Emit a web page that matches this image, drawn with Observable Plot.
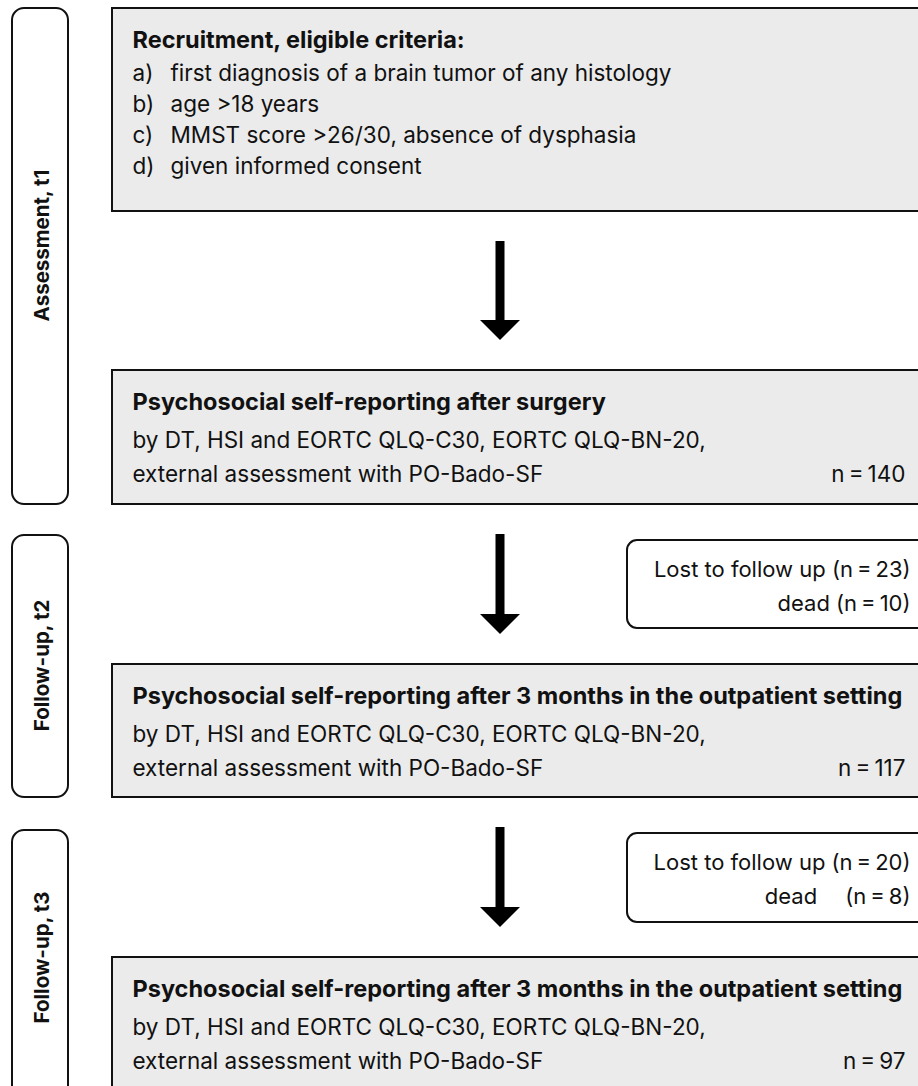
<!DOCTYPE html>
<html><head><meta charset="utf-8">
<script src="https://cdn.jsdelivr.net/npm/d3@7"></script>
<script src="https://cdn.jsdelivr.net/npm/@observablehq/plot@0.6"></script>
<style>body{margin:0;overflow:hidden;background:#fff}</style>
</head><body><div id="chart"></div>
<script>
// ---- data ----
const phaseLabels = ["Assessment, t1", "Follow-up, t2", "Follow-up, t3"];
const stageTitles = [
  "Recruitment, eligible criteria:",
  "Psychosocial self-reporting after surgery",
  "Psychosocial self-reporting after 3 months in the outpatient setting",
  "Psychosocial self-reporting after 3 months in the outpatient setting"
];
const criteriaKeys = ["a)", "b)", "c)", "d)"];
const criteriaText = [
  "first diagnosis of a brain tumor of any histology",
  "age >18 years",
  "MMST score >26/30, absence of dysphasia",
  "given informed consent"
];
const measureLines = ["by DT, HSI and EORTC QLQ-C30, EORTC QLQ-BN-20,", "external assessment with PO-Bado-SF"];
const sampleN = [140, 117, 97];
const lostN = [23, 20];
const deadN = [10, 8];
const deadGap = ["", "\u2002\u2002"];

// ---- layout ----
const W = 918, H = 1086;
const FONT = "Inter";
const FS_BOLD = 23.5, FS = 22.5, FS_SIDE = 22, FS_PHASE = 20.5;
const INK = "#111";
const mainX1 = 112, mainX2 = 940, textX = 132, keyX = 170, nRight = 905;
const mainY = [[8, 211], [370, 504], [664, 797], [957, 1100]];
const phaseY = [[8, 504], [535, 797], [830, 1100]];
const phaseMid = [245, 665, 957];
const sideY = [[540, 628], [833, 922]];
const arrowX = 500;

const mainRects = mainY.map(([y1, y2]) => ({x1: mainX1, x2: mainX2, y1, y2}));
const phaseRects = phaseY.map(([y1, y2]) => ({x1: 12, x2: 68, y1, y2}));
const sideRects = sideY.map(([y1, y2]) => ({x1: 627, x2: 940, y1, y2}));
const arrows = mainY.slice(0, 3).map(([, b], i) => {
  const top = b + 30, tip = mainY[i + 1][0] - 30;
  return {i, top, tip, head: tip - 20};
});
const shafts = arrows.map(a => ({x1: arrowX - 4.5, x2: arrowX + 4.5, y1: a.top, y2: a.head + 1}));
const heads = arrows.flatMap(a => [
  {i: a.i, x: arrowX - 20, y1: a.head, y2: a.head},
  {i: a.i, x: arrowX, y1: a.head, y2: a.tip},
  {i: a.i, x: arrowX + 20, y1: a.head, y2: a.head}
]);

const boldRows = [{x: textX, y: 47, text: stageTitles[0]}];
const normRows = [];
const rightRows = [];
const sideRows = [];
criteriaKeys.forEach((k, j) => {
  normRows.push({x: textX, y: 80 + 31 * j, text: k});
  normRows.push({x: keyX, y: 80 + 31 * j, text: criteriaText[j]});
});
mainY.slice(1).forEach(([t], i) => {
  boldRows.push({x: textX, y: t + 39, text: stageTitles[i + 1]});
  normRows.push({x: textX, y: t + 77, text: measureLines[0]});
  normRows.push({x: textX, y: t + 111, text: measureLines[1]});
  rightRows.push({x: nRight, y: t + 111, text: `n\u2009=\u2009${sampleN[i]}`});
});
sideY.forEach(([t], i) => {
  sideRows.push({x: 910, y: t + 36, text: `Lost to follow up (n\u2009=\u2009${lostN[i]})`});
  sideRows.push({x: 910, y: t + 70, text: `dead ${deadGap[i]}(n\u2009=\u2009${deadN[i]})`});
});
const phaseRows = phaseLabels.map((t, i) => ({x: 48, y: phaseMid[i], text: t}));

const plot = Plot.plot({
  width: W, height: H, margin: 0,
  x: {domain: [0, W], range: [0, W], axis: null},
  y: {domain: [0, H], range: [0, H], axis: null},
  style: {fontFamily: FONT, background: "#fff"},
  marks: [
    Plot.rect(phaseRects, {x1: "x1", x2: "x2", y1: "y1", y2: "y2", fill: "#fff", stroke: INK, strokeWidth: 2, rx: 12}),
    Plot.rect(mainRects, {x1: "x1", x2: "x2", y1: "y1", y2: "y2", fill: "#ebebeb", stroke: INK, strokeWidth: 2}),
    Plot.rect(sideRects, {x1: "x1", x2: "x2", y1: "y1", y2: "y2", fill: "#fff", stroke: INK, strokeWidth: 2, rx: 10}),
    Plot.rect(shafts, {x1: "x1", x2: "x2", y1: "y1", y2: "y2", fill: "#000"}),
    Plot.areaY(heads, {x: "x", y1: "y1", y2: "y2", z: "i", fill: "#000"}),
    Plot.text(boldRows, {x: "x", y: "y", text: "text", textAnchor: "start", lineAnchor: "bottom", fontSize: FS_BOLD, fontWeight: "bold", fill: INK}),
    Plot.text(normRows, {x: "x", y: "y", text: "text", textAnchor: "start", lineAnchor: "bottom", fontSize: FS, fill: INK}),
    Plot.text(rightRows, {x: "x", y: "y", text: "text", textAnchor: "end", lineAnchor: "bottom", fontSize: FS, fill: INK}),
    Plot.text(sideRows, {x: "x", y: "y", text: "text", textAnchor: "end", lineAnchor: "bottom", fontSize: FS_SIDE, fill: INK}),
    Plot.text(phaseRows, {x: "x", y: "y", text: "text", rotate: -90, textAnchor: "middle", lineAnchor: "bottom", fontSize: FS_PHASE, fontWeight: "bold", fill: INK})
  ]
});
document.getElementById("chart").append(plot);
</script></body></html>
